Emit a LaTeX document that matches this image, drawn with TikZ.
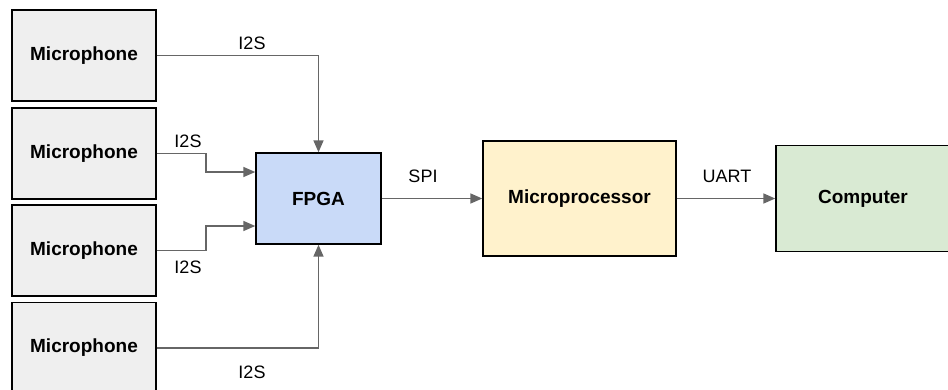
\documentclass[tikz,border=0pt]{standalone}
\usepackage{fontspec}
\setmainfont{Liberation Sans}
\usetikzlibrary{arrows.meta}
\definecolor{micfill}{HTML}{EFEFEF}
\definecolor{fpgafill}{HTML}{C9DAF8}
\definecolor{cpufill}{HTML}{FFF2CC}
\definecolor{pcfill}{HTML}{D9EAD3}
\definecolor{wire}{HTML}{666666}
\begin{document}
\begin{tikzpicture}[x=1pt,y=1pt,
  block/.style={draw=black,line width=1.4pt,inner sep=0pt,
    font=\fontsize{19}{23}\selectfont\bfseries},
  micbox/.style={block,fill=micfill,minimum width=144pt,minimum height=91pt},
  link/.style={draw=wire,line width=1.6pt,
    -{Triangle[length=12pt,width=10pt]}},
  tag/.style={font=\fontsize{18}{22}\selectfont,inner sep=0pt}]
\useasboundingbox (0,0) rectangle (948,-389);

% microphones
\node[micbox] (m1) at (84,-55.5) {Microphone};
\node[micbox] (m2) at (84,-153.5) {Microphone};
\node[micbox] (m3) at (84,-250.5) {Microphone};
\node[micbox] (m4) at (84,-348) {Microphone};

% processing chain
\node[block,fill=fpgafill,minimum width=125pt,minimum height=91pt] (fpga) at (318.5,-198.5) {FPGA};
\node[block,fill=cpufill,minimum width=193pt,minimum height=115pt] (cpu) at (579.5,-198.5) {Microprocessor};
\node[block,fill=pcfill,minimum width=174pt,minimum height=106pt] (pc) at (863,-198.5) {Computer};

% I2S links
\draw[link] (m1.east) -| (fpga.north);
\draw[link] (m2.east) -- ++(49,0) |- ([yshift=26.5pt]fpga.west);
\draw[link] (m3.east) -- ++(49,0) |- ([yshift=-27.5pt]fpga.west);
\draw[link] (m4.east) -| (fpga.south);

% serial links
\draw[link] (fpga.east) -- (cpu.west);
\draw[link] (cpu.east) -- (pc.west);

% link labels
\node[tag] (l1) at (252,-43) {I2S};
\node[tag] (l2) at (188,-141) {I2S};
\node[tag] (l3) at (188,-267) {I2S};
\node[tag] (l4) at (252,-372) {I2S};
\node[tag] (l5) at (423,-176) {SPI};
\node[tag] (l6) at (727,-176) {UART};
\end{tikzpicture}
\end{document}
